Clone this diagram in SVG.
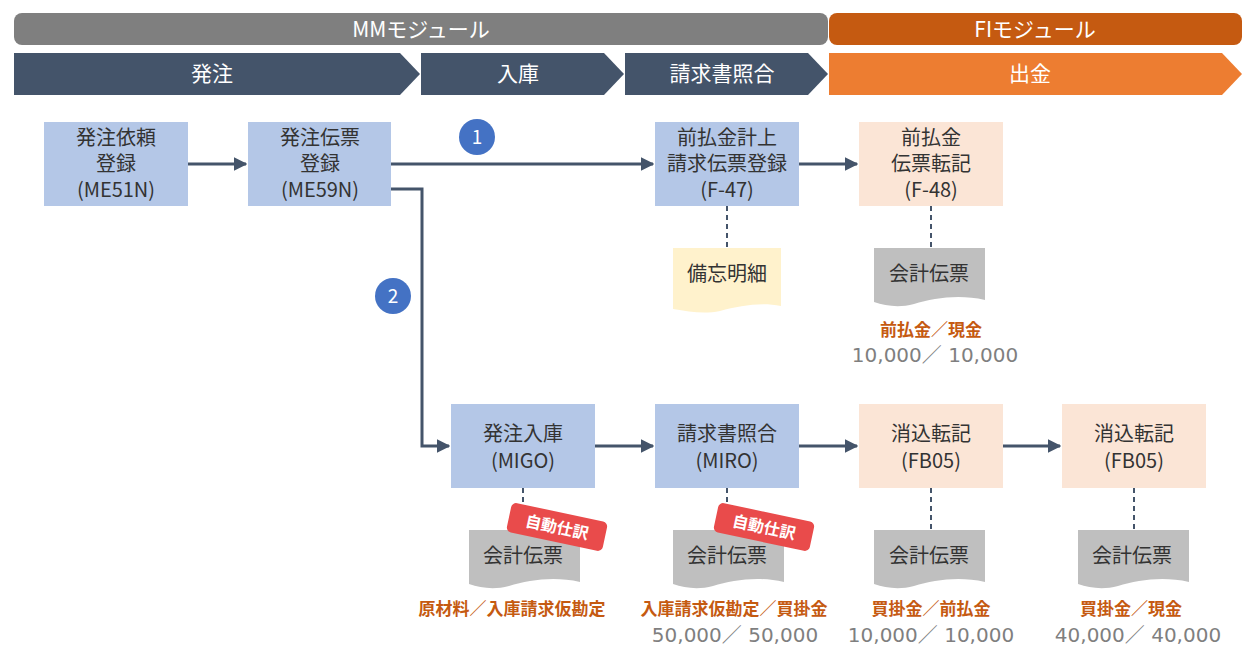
<svg xmlns="http://www.w3.org/2000/svg" width="1250" height="666" viewBox="0 0 1250 666">
<style>
text{font-family:"Noto Sans CJK JP","Liberation Sans",sans-serif;text-anchor:middle}
.hd{fill:#fff;font-size:21px}
.nd{fill:#333;font-size:20px}
.blue{fill:#b4c7e7}
.peach{fill:#fbe5d6}
.doc{fill:#bfbfbf}
.ln{stroke:#44546a;stroke-width:3;fill:none}
.ds{stroke:#44546a;stroke-width:2;stroke-dasharray:5,4;fill:none}
.acc{fill:#c55a11;font-size:17px;font-weight:bold}
.num{fill:#7f7f7f;font-size:20px;font-family:"DejaVu Sans","Noto Sans CJK JP",sans-serif}
.tag{fill:#fff;font-size:16px;font-weight:bold}
</style>
<defs>
<marker id="ah" viewBox="0 0 10 10" refX="9" refY="5" markerWidth="4.5" markerHeight="4.5" orient="auto"><path d="M0,0L10,5L0,10z" fill="#44546a"/></marker>
<path id="docshape" d="M0,0H111V52C85,46 60,50 40,56C25,60 12,58 0,54Z"/>
</defs>
<g id="header">
<rect x="14" y="13" width="814" height="32" rx="8" fill="#7f7f7f"/>
<text class="hd" x="421" y="37">MMモジュール</text>
<rect x="829" y="13" width="413" height="32" rx="8" fill="#c55a11"/>
<text class="hd" x="1035" y="37">FIモジュール</text>
<path d="M14,53H400L420,74L400,95H14Z" fill="#44546a"/>
<text class="hd" x="212" y="81">発注</text>
<path d="M421,53H604L624,74L604,95H421Z" fill="#44546a"/>
<text class="hd" x="518" y="81">入庫</text>
<path d="M625,53H808L828,74L808,95H625Z" fill="#44546a"/>
<text class="hd" x="722" y="81">請求書照合</text>
<path d="M829,53H1222L1242,74L1222,95H829Z" fill="#ed7d31"/>
<text class="hd" x="1030" y="81">出金</text>
</g>
<g id="connectors">
<line class="ln" x1="188" y1="164" x2="246" y2="164" marker-end="url(#ah)"/>
<line class="ln" x1="391" y1="164" x2="653" y2="164" marker-end="url(#ah)"/>
<line class="ln" x1="799" y1="164" x2="857" y2="164" marker-end="url(#ah)"/>
<path class="ln" d="M391,189H422V446H449" marker-end="url(#ah)"/>
<line class="ln" x1="595" y1="446" x2="653" y2="446" marker-end="url(#ah)"/>
<line class="ln" x1="799" y1="446" x2="857" y2="446" marker-end="url(#ah)"/>
<line class="ln" x1="1003" y1="446" x2="1060" y2="446" marker-end="url(#ah)"/>
<line class="ds" x1="727" y1="206" x2="727" y2="248"/>
<line class="ds" x1="931" y1="206" x2="931" y2="248"/>
<line class="ds" x1="523" y1="488" x2="523" y2="530"/>
<line class="ds" x1="727" y1="488" x2="727" y2="530"/>
<line class="ds" x1="931" y1="488" x2="931" y2="530"/>
<line class="ds" x1="1134" y1="488" x2="1134" y2="530"/>
</g>
<g id="n1"><rect class="blue" x="44" y="122" width="144" height="84"/><text class="nd" x="116" y="145">発注依頼</text><text class="nd" x="116" y="171">登録</text><text class="nd" x="116" y="197">(ME51N)</text></g>
<g id="n2"><rect class="blue" x="248" y="122" width="143" height="84"/><text class="nd" x="320" y="145">発注伝票</text><text class="nd" x="320" y="171">登録</text><text class="nd" x="320" y="197">(ME59N)</text></g>
<g id="n3"><rect class="blue" x="655" y="122" width="144" height="84"/><text class="nd" x="727" y="145">前払金計上</text><text class="nd" x="727" y="171">請求伝票登録</text><text class="nd" x="727" y="197">(F-47)</text></g>
<g id="n4"><rect class="peach" x="859" y="122" width="144" height="84"/><text class="nd" x="931" y="145">前払金</text><text class="nd" x="931" y="171">伝票転記</text><text class="nd" x="931" y="197">(F-48)</text></g>
<g id="memo"><path d="M673,248H781V306C760,302 740,306 720,311C705,314 690,312 673,309Z" fill="#fff2cc"/><text class="nd" x="727" y="281">備忘明細</text></g>
<g id="doc1"><use href="#docshape" x="874" y="248" class="doc"/><text class="nd" x="929" y="281">会計伝票</text></g>
<text class="acc" x="931" y="336">前払金／現金</text>
<text class="num" x="935" y="362">10,000／ 10,000</text>
<g id="b1"><circle cx="477" cy="137" r="18" fill="#4472c4"/><text x="477" y="144" fill="#fff" font-size="19">1</text></g>
<g id="b2"><circle cx="393" cy="296" r="18" fill="#4472c4"/><text x="393" y="303" fill="#fff" font-size="19">2</text></g>
<g id="n5"><rect class="blue" x="451" y="404" width="144" height="84"/><text class="nd" x="523" y="441">発注入庫</text><text class="nd" x="523" y="468">(MIGO)</text></g>
<g id="n6"><rect class="blue" x="655" y="404" width="144" height="84"/><text class="nd" x="727" y="441">請求書照合</text><text class="nd" x="727" y="468">(MIRO)</text></g>
<g id="n7"><rect class="peach" x="859" y="404" width="144" height="84"/><text class="nd" x="931" y="441">消込転記</text><text class="nd" x="931" y="468">(FB05)</text></g>
<g id="n8"><rect class="peach" x="1062" y="404" width="144" height="84"/><text class="nd" x="1134" y="441">消込転記</text><text class="nd" x="1134" y="468">(FB05)</text></g>
<g id="doc2"><use href="#docshape" x="469" y="530" class="doc"/><text class="nd" x="523" y="563">会計伝票</text></g>
<g id="doc3"><use href="#docshape" x="673" y="530" class="doc"/><text class="nd" x="727" y="563">会計伝票</text></g>
<g id="doc4"><use href="#docshape" x="874" y="530" class="doc"/><text class="nd" x="929" y="563">会計伝票</text></g>
<g id="doc5"><use href="#docshape" x="1078" y="530" class="doc"/><text class="nd" x="1132" y="563">会計伝票</text></g>
<g id="tag1" transform="translate(557,527) rotate(12)"><rect x="-49" y="-15" width="98" height="30" rx="5" fill="#e94b4b"/><text class="tag" x="0" y="6">自動仕訳</text></g>
<g id="tag2" transform="translate(764,527) rotate(12)"><rect x="-49" y="-15" width="98" height="30" rx="5" fill="#e94b4b"/><text class="tag" x="0" y="6">自動仕訳</text></g>
<text class="acc" x="512" y="615">原材料／入庫請求仮勘定</text>
<text class="acc" x="734" y="615">入庫請求仮勘定／買掛金</text>
<text class="acc" x="931" y="615">買掛金／前払金</text>
<text class="acc" x="1131" y="615">買掛金／現金</text>
<text class="num" x="735" y="642">50,000／ 50,000</text>
<text class="num" x="931" y="642">10,000／ 10,000</text>
<text class="num" x="1138" y="642">40,000／ 40,000</text>
</svg>
